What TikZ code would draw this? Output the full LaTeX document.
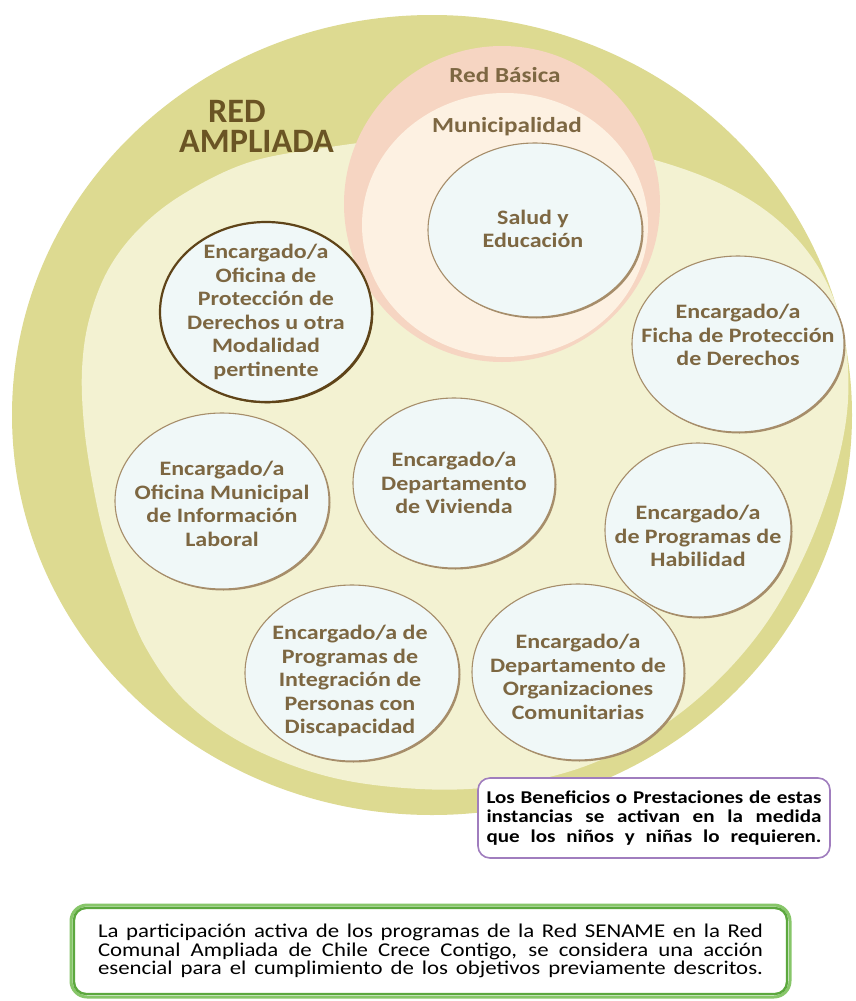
\documentclass[tikz,border=0pt]{standalone}
\usepackage{fontspec}
\setmainfont{Carlito}
\newfontfamily\widefont{Carlito}[FakeStretch=1.17]
\usetikzlibrary{shapes.geometric,shadows}

\definecolor{outerY}{RGB}{221,218,145}
\definecolor{innerY}{RGB}{243,242,210}
\definecolor{basica}{RGB}{246,213,194}
\definecolor{muni}{RGB}{253,241,226}
\definecolor{bubfill}{RGB}{240,248,248}
\definecolor{bubline}{RGB}{166,141,106}
\definecolor{darkline}{RGB}{95,68,25}
\definecolor{txtc}{RGB}{125,103,66}
\definecolor{titlec}{RGB}{106,84,36}
\definecolor{purp}{RGB}{160,125,190}
\definecolor{greenA}{RGB}{135,198,105}
\definecolor{greenB}{RGB}{92,168,62}

% a text line spread to a fixed width
\newcommand\spreadline[2]{\makebox[#1][s]{#2}}

\begin{document}
\begin{tikzpicture}[x=1pt,y=-1pt,
  bub/.style={shape=ellipse, inner sep=0pt, fill=bubfill, draw=bubline, line width=1.1pt,
    general shadow={fill=bubline, shadow xshift=1.5pt, shadow yshift=-1.5pt}},
  bubdark/.style={shape=ellipse, inner sep=0pt, fill=bubfill, draw=darkline, line width=2.2pt,
    general shadow={fill=darkline, shadow xshift=1.3pt, shadow yshift=-1.3pt}},
  btext/.style={font=\widefont\bfseries\fontsize{20.5}{23.5}\selectfont, text=txtc,
    align=center, inner sep=0pt},
  lbl/.style={font=\widefont\bfseries\fontsize{21.5}{24}\selectfont, text=txtc, inner sep=0pt},
  title/.style={font=\bfseries\fontsize{34.2}{29}\selectfont, text=titlec, inner sep=0pt, anchor=base west},
  benefbox/.style={draw=purp, line width=1.6pt, rounded corners=12pt, fill=white,
    minimum width=352pt, minimum height=80pt, align=center, inner sep=0pt,
    font=\widefont\bfseries\fontsize{18}{19.5}\selectfont},
  notebox/.style={draw=greenA, line width=3pt, rounded corners=16pt, fill=white,
    minimum width=719pt, minimum height=92pt, align=center, inner sep=0pt,
    font=\widefont\fontsize{19.5}{18.5}\selectfont},
  innerline/.style={draw=greenB, line width=2.4pt, rounded corners=12pt}
]
\useasboundingbox (0,0) rectangle (856,1001);
\fill[white] (0,0) rectangle (856,1001);

% Red ampliada: outer band and inner field
\fill[outerY] (432,415) ellipse [x radius=420, y radius=400];
\fill[innerY] plot[smooth cycle, tension=0.6] coordinates {
  (250,162) (185,193) (140,228) (108,270) (89,320) (82,370) (84,425) (92,480)
  (104,535) (122,590) (146,648) (186,702) (248,746) (330,777) (420,789) (500,786)
  (580,768) (650,734) (712,686) (765,625) (806,552) (835,472) (848,400) (843,330)
  (820,270) (780,222) (725,186) (655,160) (575,143) (495,135) (415,137) (330,147)};

% Red basica and municipalidad
\fill[basica] (502,204) circle [radius=158];
\fill[muni] (505,225) ellipse [x radius=143, y radius=132];

\node[title] (redT) at (208,122) {RED};
\node[title] (ampliadaT) at (179,152) {AMPLIADA};
\node[lbl] (basicaT) at (505,75) {Red Básica};
\node[lbl] (muniT) at (507,127) {Municipalidad};

% Services
\node[bub, minimum width=214pt, minimum height=174pt] (salud) at (535,230) {};
\node[btext] (saludT) at (533,229) {Salud y\\Educación};

\node[bubdark, minimum width=212pt, minimum height=180pt] (opd) at (266,312) {};
\node[btext] (opdT) at (266,312) {Encargado/a\\Oficina de\\Protección de\\Derechos u otra\\Modalidad\\pertinente};

\node[bub, minimum width=212pt, minimum height=176pt] (ficha) at (738,344) {};
\node[btext] (fichaT) at (738,335) {Encargado/a\\Ficha de Protección\\de Derechos};

\node[bub, minimum width=214pt, minimum height=176pt] (omil) at (222,501) {};
\node[btext] (omilT) at (222,504) {Encargado/a\\Oficina Municipal\\de Información\\Laboral};

\node[bub, minimum width=202pt, minimum height=170pt] (vivienda) at (454,483) {};
\node[btext] (viviendaT) at (454,483) {Encargado/a\\Departamento\\de Vivienda};

\node[bub, minimum width=186pt, minimum height=174pt] (habil) at (698,530) {};
\node[btext] (habilT) at (698,536) {Encargado/a\\de Programas de\\Habilidad};

\node[bub, minimum width=214pt, minimum height=176pt] (disc) at (352,673) {};
\node[btext] (discT) at (350,681) {Encargado/a de\\Programas de\\Integración de\\Personas con\\Discapacidad};

\node[bub, minimum width=212pt, minimum height=176pt] (dideco) at (578,672) {};
\node[btext] (didecoT) at (578,677) {Encargado/a\\Departamento de\\Organizaciones\\Comunitarias};

% Notes
\node[benefbox] (benef) at (654,818) {%
  \spreadline{335pt}{Los Beneficios o Prestaciones de estas}\\
  \spreadline{335pt}{instancias se activan en la medida}\\
  \spreadline{335pt}{que los niños y niñas lo requieren.}};

\node[notebox] (note) at (430.5,951) {%
  \spreadline{665pt}{La participación activa de los programas de la Red SENAME en la Red}\\
  \spreadline{665pt}{Comunal Ampliada de Chile Crece Contigo, se considera una acción}\\
  \spreadline{665pt}{esencial para el cumplimiento de los objetivos previamente descritos.}};
\draw[innerline] ([shift={(4.5pt,-4.5pt)}]note.north west) rectangle ([shift={(-4.5pt,4.5pt)}]note.south east);
\end{tikzpicture}
\end{document}
